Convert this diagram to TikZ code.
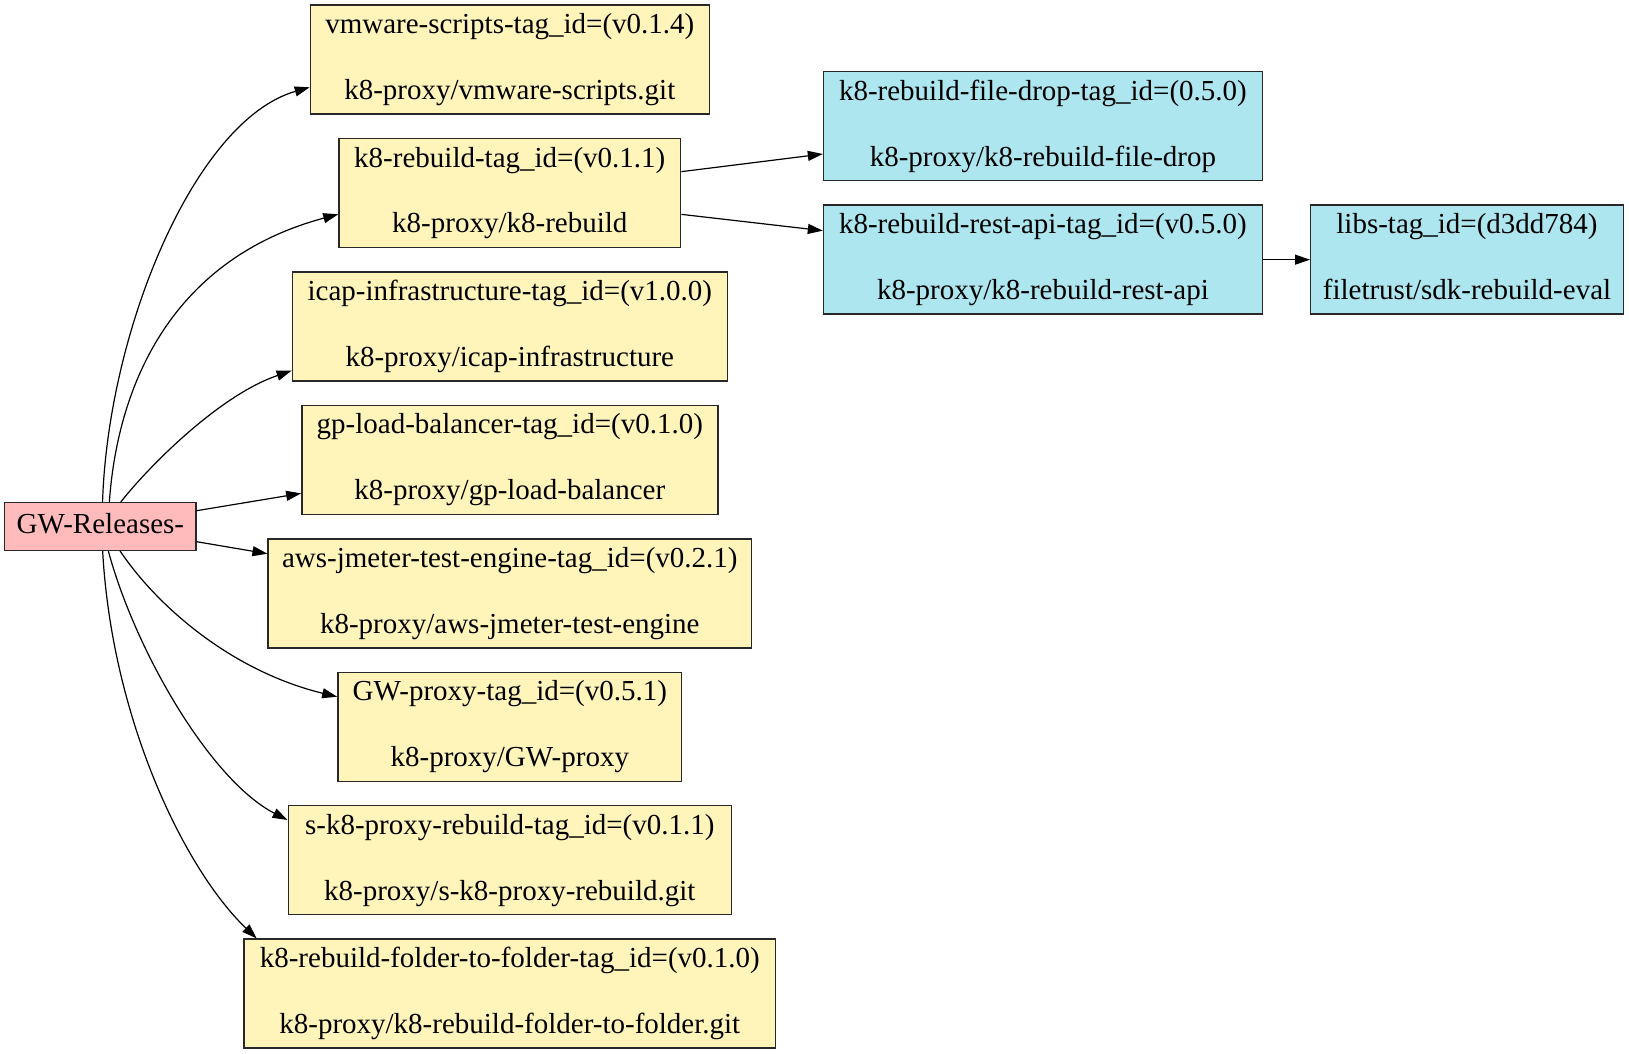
\documentclass[tikz,border=0pt]{standalone}
\usepackage{fontspec}
\setmainfont{Liberation Serif}
\usetikzlibrary{arrows.meta,calc}
\definecolor{ylw}{RGB}{255,245,187}
\definecolor{blu}{RGB}{173,230,238}
\definecolor{pnk}{RGB}{255,187,187}
\definecolor{bordercol}{RGB}{40,40,40}
\newcommand\tfont{\fontsize{29}{34}\selectfont}
\tikzset{
  box/.style={draw=bordercol, line width=1.4pt, minimum height=109pt, inner sep=0pt},
  ybox/.style={box, fill=ylw},
  bbox/.style={box, fill=blu},
  pbox/.style={draw=bordercol, line width=1.4pt, fill=pnk, minimum height=47.6pt, minimum width=191.3pt, inner sep=0pt},
  txt/.style={anchor=base, inner sep=0pt, font=\tfont},
  edge/.style={-{Triangle[length=15pt,width=10pt]}, line width=1.2pt, black}
}
\begin{document}
\begin{tikzpicture}[x=1pt,y=-1pt]
\useasboundingbox (0,0) rectangle (1629,1053);
% source
\node[pbox] (gw) at (100.35,526.5) {};
\node[txt] (gwt) at ($(gw.center)+(0,6.8)$) {GW-Releases-};
% yellow column
\node[ybox, minimum width=398.9pt] (vm) at (509.8,59.5) {};
\node[txt] (vma) at ($(vm.north)+(0,29.3)$) {vmware-scripts-tag\_id=(v0.1.4)};
\node[txt] (vmb) at ($(vm.north)+(0,95)$) {k8-proxy/vmware-scripts.git};
\node[ybox, minimum width=341.7pt] (kr) at (509.8,192.95) {};
\node[txt] (kra) at ($(kr.north)+(0,29.3)$) {k8-rebuild-tag\_id=(v0.1.1)};
\node[txt] (krb) at ($(kr.north)+(0,95)$) {k8-proxy/k8-rebuild};
\node[ybox, minimum width=435pt] (icap) at (509.8,326.4) {};
\node[txt] (icapa) at ($(icap.north)+(0,29.3)$) {icap-infrastructure-tag\_id=(v1.0.0)};
\node[txt] (icapb) at ($(icap.north)+(0,95)$) {k8-proxy/icap-infrastructure};
\node[ybox, minimum width=416pt] (gp) at (509.8,459.85) {};
\node[txt] (gpa) at ($(gp.north)+(0,29.3)$) {gp-load-balancer-tag\_id=(v0.1.0)};
\node[txt] (gpb) at ($(gp.north)+(0,95)$) {k8-proxy/gp-load-balancer};
\node[ybox, minimum width=483.3pt] (aws) at (509.8,593.3) {};
\node[txt] (awsa) at ($(aws.north)+(0,29.3)$) {aws-jmeter-test-engine-tag\_id=(v0.2.1)};
\node[txt] (awsb) at ($(aws.north)+(0,95)$) {k8-proxy/aws-jmeter-test-engine};
\node[ybox, minimum width=343.9pt] (gwp) at (509.8,726.75) {};
\node[txt] (gwpa) at ($(gwp.north)+(0,29.3)$) {GW-proxy-tag\_id=(v0.5.1)};
\node[txt] (gwpb) at ($(gwp.north)+(0,95)$) {k8-proxy/GW-proxy};
\node[ybox, minimum width=443.2pt] (sk) at (509.8,860.2) {};
\node[txt] (ska) at ($(sk.north)+(0,29.3)$) {s-k8-proxy-rebuild-tag\_id=(v0.1.1)};
\node[txt] (skb) at ($(sk.north)+(0,95)$) {k8-proxy/s-k8-proxy-rebuild.git};
\node[ybox, minimum width=531.3pt] (fold) at (509.8,993.65) {};
\node[txt] (folda) at ($(fold.north)+(0,29.3)$) {k8-rebuild-folder-to-folder-tag\_id=(v0.1.0)};
\node[txt] (foldb) at ($(fold.north)+(0,95)$) {k8-proxy/k8-rebuild-folder-to-folder.git};
% blue nodes
\node[bbox, minimum width=438.8pt] (fd) at (1042.9,126.2) {};
\node[txt] (fda) at ($(fd.north)+(0,29.3)$) {k8-rebuild-file-drop-tag\_id=(0.5.0)};
\node[txt] (fdb) at ($(fd.north)+(0,95)$) {k8-proxy/k8-rebuild-file-drop};
\node[bbox, minimum width=438.8pt] (ra) at (1042.9,259.65) {};
\node[txt] (raa) at ($(ra.north)+(0,29.3)$) {k8-rebuild-rest-api-tag\_id=(v0.5.0)};
\node[txt] (rab) at ($(ra.north)+(0,95)$) {k8-proxy/k8-rebuild-rest-api};
\node[bbox, minimum width=312.6pt] (libs) at (1467,259.65) {};
\node[txt] (libsa) at ($(libs.north)+(0,29.3)$) {libs-tag\_id=(d3dd784)};
\node[txt] (libsb) at ($(libs.north)+(0,95)$) {filetrust/sdk-rebuild-eval};
% edges
\draw[edge] ($(gw.north)+(2.2,0)$) .. controls (108,330) and (195,120) .. ($(vm.west)+(0,27.8)$);
\draw[edge] ($(gw.north)+(9,0)$) .. controls (118,380) and (175,258) .. ($(kr.west)+(0,21.3)$);
\draw[edge] ($(gw.north)+(20.4,0)$) .. controls (150,465) and (220,395) .. ($(icap.west)+(0,44.3)$);
\draw[edge] ($(gw.east)+(0,-15.8)$) -- ($(gp.west)+(0,33.5)$);
\draw[edge] ($(gw.east)+(0,15.2)$) -- ($(aws.west)+(0,-39.6)$);
\draw[edge] ($(gw.south)+(19.7,0)$) .. controls (160,610) and (235,672) .. ($(gwp.west)+(0,-30)$);
\draw[edge] ($(gw.south)+(8,0)$) .. controls (135,650) and (210,780) .. ($(sk.west)+(0,-40.2)$);
\draw[edge] ($(gw.south)+(2.3,0)$) .. controls (112,720) and (185,870) .. ($(fold.north west)+(13.3,0)$);
\draw[edge] ($(kr.east)+(0,-21.3)$) -- ($(fd.west)+(0,27.8)$);
\draw[edge] ($(kr.east)+(0,21.4)$) -- ($(ra.west)+(0,-29)$);
\draw[edge] (ra.east) -- (libs.west);
\end{tikzpicture}
\end{document}
